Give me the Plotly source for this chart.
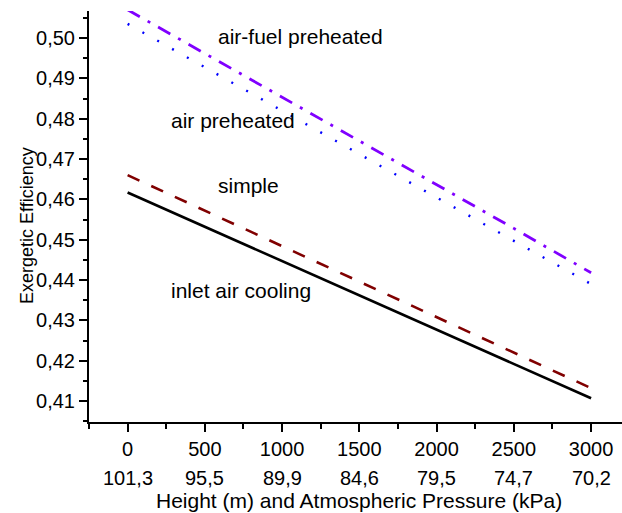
import plotly.graph_objects as go

height_m = [0, 500, 1000, 1500, 2000, 2500, 3000]
pressure_labels = ["101,3", "95,5", "89,9", "84,6", "79,5", "74,7", "70,2"]

inlet_air_cooling = [0.4617, 0.4532, 0.4447, 0.4362, 0.4277, 0.4192, 0.4107]
simple = [0.4660, 0.4572, 0.4484, 0.4396, 0.4308, 0.4220, 0.4132]
air_preheated = [0.5035, 0.4927, 0.4820, 0.4712, 0.4605, 0.4497, 0.4390]
air_fuel_preheated = [0.5070, 0.4962, 0.4854, 0.4745, 0.4637, 0.4528, 0.4418]

y_tickvals = [0.41, 0.42, 0.43, 0.44, 0.45, 0.46, 0.47, 0.48, 0.49, 0.50]
y_ticktext = ["0,41", "0,42", "0,43", "0,44", "0,45", "0,46", "0,47", "0,48", "0,49", "0,50"]
x_ticktext = ["0", "500", "1000", "1500", "2000", "2500", "3000"]

labels = ["air-fuel preheated", "air preheated", "simple", "inlet air cooling"]
label_x = [1120, 680, 785, 735]
label_y = [0.5004, 0.4795, 0.4635, 0.4373]

FONT = "Liberation Sans, Arial, sans-serif"
TICK_SIZE = 20
TEXT_SIZE = 21

fig = go.Figure()
fig.add_trace(go.Scatter(x=height_m, y=inlet_air_cooling, mode="lines",
                         line=dict(color="#000000", width=2.6)))
fig.add_trace(go.Scatter(x=height_m, y=simple, mode="lines",
                         line=dict(color="#800000", width=2.6, dash="13px,13px")))
fig.add_trace(go.Scatter(x=height_m, y=air_preheated, mode="lines",
                         line=dict(color="#0000FF", width=2.4, dash="2px,15px")))
fig.add_trace(go.Scatter(x=height_m, y=air_fuel_preheated, mode="lines",
                         line=dict(color="#8000FF", width=2.8, dash="14px,9px,3px,9px")))

annotations = []
for t, x, y in zip(labels, label_x, label_y):
    annotations.append(dict(text=t, x=x, y=y, xref="x", yref="y", showarrow=False,
                            font=dict(size=TEXT_SIZE, color="#000000", family=FONT)))
for x, t in zip(height_m, pressure_labels):
    annotations.append(dict(text=t, x=x, y=0, xref="x", yref="paper", showarrow=False,
                            yanchor="middle", yshift=-56,
                            font=dict(size=TICK_SIZE, color="#000000", family=FONT)))
annotations.append(dict(text="Height (m) and Atmospheric Pressure (kPa)", x=1500, y=0,
                        xref="x", yref="paper", showarrow=False, yanchor="middle",
                        yshift=-78, font=dict(size=TEXT_SIZE, color="#000000", family=FONT)))
annotations.append(dict(text="Exergetic Efficiency", x=0, y=0.477, xref="paper",
                        yref="paper", showarrow=False, textangle=-90, xanchor="center",
                        yanchor="middle", xshift=-62,
                        font=dict(size=18, color="#000000", family=FONT)))

fig.update_layout(
    width=622, height=513,
    margin=dict(l=89, r=0, t=11, b=91),
    paper_bgcolor="white", plot_bgcolor="white",
    showlegend=False,
    font=dict(family=FONT, size=TICK_SIZE, color="#000000"),
    annotations=annotations,
)
fig.update_xaxes(
    range=[-250, 3200], tickvals=height_m, ticktext=x_ticktext,
    showline=True, linecolor="#000000", linewidth=2, showgrid=False, zeroline=False,
    ticks="outside", ticklen=8, tickwidth=2, tickcolor="#000000",
    tickfont=dict(size=TICK_SIZE, family=FONT, color="#000000"),
    minor=dict(ticks="outside", ticklen=5, tickwidth=2, tickcolor="#000000", dtick=250,
               tick0=0, showgrid=False),
)
fig.update_yaxes(
    range=[0.4048, 0.5067], tickvals=y_tickvals, ticktext=y_ticktext,
    showline=True, linecolor="#000000", linewidth=2, showgrid=False, zeroline=False,
    ticks="outside", ticklen=8, tickwidth=2, tickcolor="#000000",
    tickfont=dict(size=TICK_SIZE, family=FONT, color="#000000"),
    minor=dict(ticks="outside", ticklen=4, tickwidth=2, tickcolor="#000000", dtick=0.005,
               tick0=0.40, showgrid=False),
)

fig.write_html("out.html")
